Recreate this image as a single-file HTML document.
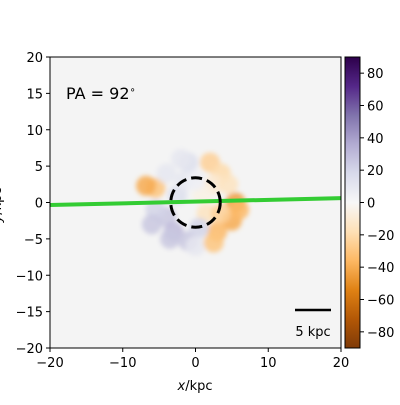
<!DOCTYPE html>
<html><head><meta charset="utf-8"><style>
body{margin:0;background:#fff;font-family:"Liberation Sans","DejaVu Sans",sans-serif}
svg text{font-family:"DejaVu Sans","Liberation Sans",sans-serif;font-size:13px;fill:#000}
</style></head><body>
<svg id="c" width="400" height="400" viewBox="0 0 400 400">
<defs>
<linearGradient id="puor" x1="0" y1="1" x2="0" y2="0">
<stop offset="0" stop-color="#7f3b08"/><stop offset="0.1" stop-color="#b35806"/><stop offset="0.2" stop-color="#e08214"/><stop offset="0.3" stop-color="#fdb863"/><stop offset="0.4" stop-color="#fee0b6"/><stop offset="0.5" stop-color="#f7f7f7"/><stop offset="0.6" stop-color="#d8daeb"/><stop offset="0.7" stop-color="#b2abd2"/><stop offset="0.8" stop-color="#8073ac"/><stop offset="0.9" stop-color="#542788"/><stop offset="1" stop-color="#2d004b"/>
</linearGradient>
<filter id="blur" x="-50%" y="-50%" width="200%" height="200%"><feGaussianBlur stdDeviation="2.5"/></filter>
</defs>
<rect x="50" y="57" width="291" height="291" fill="#f4f4f4"/>
<g id="blobs" filter="url(#blur)"></g>
<g id="overlay"></g>
<rect x="50" y="57" width="291" height="291" fill="none" stroke="#000" stroke-width="1"/>
<g id="axes"></g>
<text x="66" y="99" style="font-size:16px">PA = 92<tspan dy="-6" style="font-size:10px">∘</tspan></text>
<line x1="295" y1="310" x2="331" y2="310" stroke="#000" stroke-width="2.5"/>
<text x="313" y="336" text-anchor="middle">5 kpc</text>
<text x="195" y="390" text-anchor="middle"><tspan font-style="italic">x</tspan>/kpc</text>
<text transform="translate(1,205) rotate(-90)" text-anchor="middle"><tspan font-style="italic">y</tspan>/kpc</text>
<rect x="345" y="57" width="15" height="291" fill="url(#puor)" stroke="#000" stroke-width="1"/>
<g id="cbar"></g>
</svg>
<script>
const ticks=[-20,-15,-10,-5,0,5,10,15,20];
const xTicks=[-20,-10,0,10,20];
const cbTicks=[-80,-60,-40,-20,0,20,40,60,80];
const blobX=[-5.5,-6.8,2,3.5,5.5,5,3,-4,-3,-1,-1,-4,-2.5,1.5,-5.5,0.5,2.5,-2,0,4.5,-6,6,1,-3.5,2.5,-1.5,0,3.5];
const blobY=[2,2.3,5.5,4,0,-2.5,-4,-2,-4,-5.3,5.5,4,1,-1.5,-1,-3.5,2.5,6,-6,2.5,-3,-1,1,-5,-5.5,3,3,-1.5];
const blobV=[-30,-40,-25,-20,-45,-40,-35,25,30,25,15,10,15,-15,20,20,-10,10,10,-15,25,-35,-5,25,-30,10,5,-25];
const lineX=[-20,20], lineY=[-0.35,0.6];
const NS='http://www.w3.org/2000/svg';
const sx=v=>50+(v+20)*291/40, sy=v=>348-(v+20)*291/40, cy=v=>202.5-v*291/180;
function mk(t,a,p){const e=document.createElementNS(NS,t);for(const k in a)e.setAttribute(k,a[k]);(p||document.getElementById('c')).appendChild(e);return e;}
const stops=[[-90,[127,59,8]],[-72,[179,88,6]],[-54,[224,130,20]],[-36,[253,184,99]],[-18,[254,224,182]],[0,[247,247,247]],[18,[216,218,235]],[36,[178,171,210]],[54,[128,115,172]],[72,[84,39,136]],[90,[45,0,75]]];
function col(v){for(let i=0;i<stops.length-1;i++){const[a,ca]=stops[i],[b,cb]=stops[i+1];if(v<=b){const t=(v-a)/(b-a);return 'rgb('+ca.map((c,j)=>Math.round(c+(cb[j]-c)*t)).join(',')+')';}}return 'rgb(45,0,75)';}
const bg=document.getElementById('blobs');
blobX.forEach((x,i)=>{const e=mk('circle',{cx:sx(x),cy:sy(blobY[i]),r:10,fill:col(blobV[i]),'fill-opacity':0.85},bg);

});
const ov=document.getElementById('overlay');
const gl=mk('line',{x1:sx(lineX[0]),y1:sy(lineY[0]),x2:sx(lineX[1]),y2:sy(lineY[1]),stroke:'#33cc33','stroke-width':4},ov);


const dc=mk('circle',{cx:sx(0),cy:sy(0),r:3.4*291/40,fill:'none',stroke:'#000','stroke-width':3,'stroke-dasharray':'11,5'},ov);


const ax=document.getElementById('axes');
xTicks.forEach(t=>{mk('line',{x1:sx(t),y1:348,x2:sx(t),y2:352,stroke:'#000'},ax);
const e=mk('text',{x:sx(t),y:367,'text-anchor':'middle'},ax);e.textContent=String(t).replace('-','−');

});
ticks.forEach(t=>{mk('line',{x1:46,y1:sy(t),x2:50,y2:sy(t),stroke:'#000'},ax);
const e=mk('text',{x:43,y:sy(t)+5,'text-anchor':'end'},ax);e.textContent=String(t).replace('-','−');

});
const cb=document.getElementById('cbar');
cbTicks.forEach(t=>{mk('line',{x1:360,y1:cy(t),x2:364,y2:cy(t),stroke:'#000'},cb);
const e=mk('text',{x:367,y:cy(t)+5},cb);e.textContent=String(t).replace('-','−');

});
</script>
</body></html>
